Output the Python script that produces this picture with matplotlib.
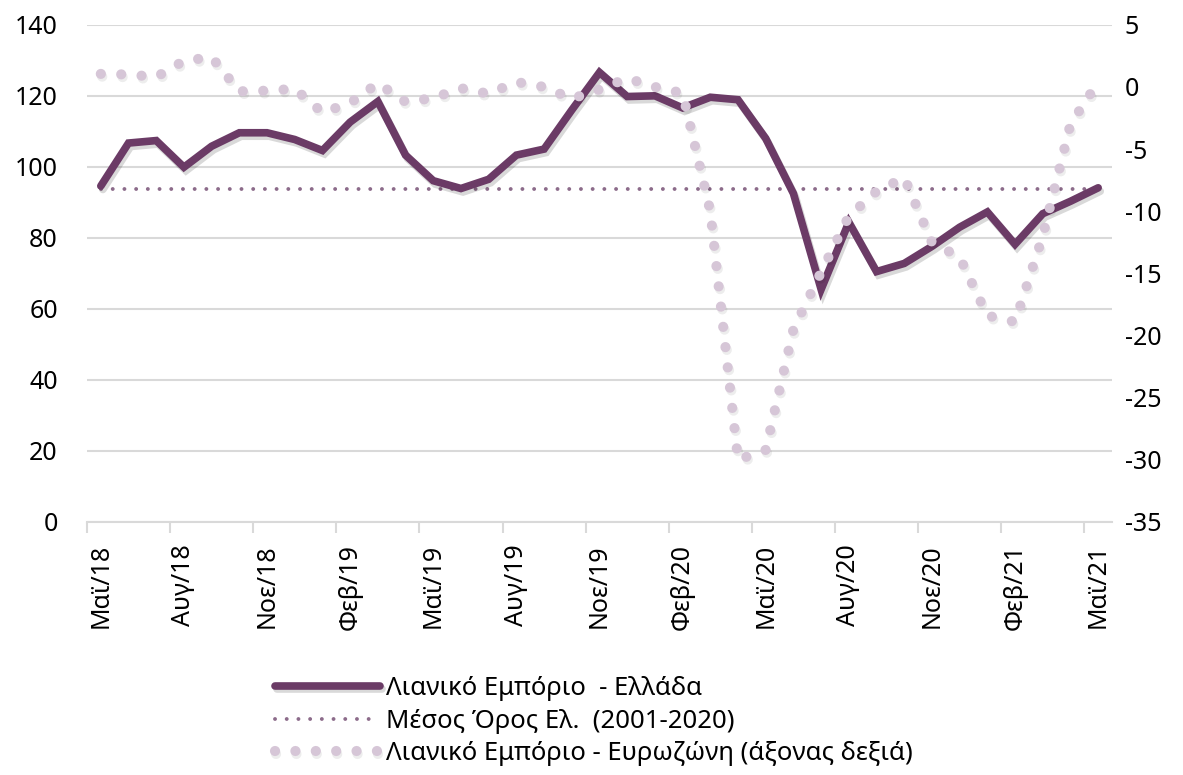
import matplotlib.pyplot as plt
import matplotlib.patheffects as pe

plt.rcParams['font.family'] = ['Noto Sans', 'DejaVu Sans']
plt.rcParams['axes.unicode_minus'] = False

# monthly data, May 2018 - May 2021
greece = [94.6, 106.7, 107.4, 99.9, 105.8, 109.6, 109.6, 107.7, 104.6, 112.6,
          118.4, 103.3, 96.1, 93.9, 96.5, 103.3, 105.0, 116.0, 126.6, 119.8,
          120.0, 116.6, 119.6, 118.9, 108.0, 92.5, 65.5, 84.4, 70.5, 72.8,
          77.6, 83.0, 87.3, 78.2, 86.8, 90.3, 94.1]
eurozone = [1.05, 1.0, 0.8, 2.1, 2.4, -0.35, -0.3, -0.15, -2.05, -1.3,
            0.3, -1.2, -0.9, -0.1, -0.55, 0.4, 0.0, -0.95, -0.2, 0.7,
            0.0, -0.5, -10.0, -30.0, -29.2, -19.5, -14.9, -10.4, -8.4, -7.3,
            -12.5, -13.7, -18.4, -18.9, -12.0, -3.0, 0.4]
greece_avg = 93.8
tick_labels = ['Μαϊ/18', 'Αυγ/18', 'Νοε/18', 'Φεβ/19', 'Μαϊ/19', 'Αυγ/19', 'Νοε/19',
               'Φεβ/20', 'Μαϊ/20', 'Αυγ/20', 'Νοε/20', 'Φεβ/21', 'Μαϊ/21']

x = list(range(len(greece)))
grid_col = '#d9d9d9'
shadow = [pe.SimpleLineShadow(offset=(1.5, -2.5), shadow_color='black', alpha=0.15), pe.Normal()]
soft_shadow = [pe.SimpleLineShadow(offset=(1, -2), shadow_color='black', alpha=0.07), pe.Normal()]

fig = plt.figure(figsize=(11.83, 7.75), dpi=100)
ax = fig.add_axes([0.0735, 0.3265, 0.8665, 0.6415])
ax2 = ax.twinx()

l1, = ax.plot(x, greece, color='#6b3b66', lw=5.5, solid_capstyle='round',
              solid_joinstyle='miter', path_effects=shadow, zorder=3,
              label='Λιανικό Εμπόριο  - Ελλάδα')
l2, = ax.plot(x, [greece_avg] * len(x), color='#8c6b8a', lw=2.8,
              linestyle=(0, (0.01, 3.0)), dash_capstyle='round', zorder=2,
              label='Μέσος Όρος Ελ.  (2001-2020)')
l3, = ax2.plot(x, eurozone, color='#d6c6d7', lw=7.3,
               linestyle=(0, (0.01, 2.0)), dash_capstyle='round',
               path_effects=soft_shadow, label='Λιανικό Εμπόριο - Ευρωζώνη (άξονας δεξιά)')

ax.set_xlim(-0.5, len(x) - 0.5)
ax.set_ylim(0, 140)
ax.set_yticks(range(0, 141, 20))
ax2.set_ylim(-35, 5)
ax2.set_yticks(range(-35, 6, 5))

ax.set_xticks(x[::3])
ax.set_xticklabels(tick_labels, rotation=90)
ax.set_xticks([i - 0.5 for i in x[::3]], minor=True)

ax.yaxis.grid(True, color=grid_col, lw=1.5)
ax.set_axisbelow(True)
for s in ['top', 'left', 'right']:
    ax.spines[s].set_visible(False)
for s in ax2.spines.values():
    s.set_visible(False)
ax.spines['bottom'].set_color(grid_col)
ax.spines['bottom'].set_linewidth(1.5)

ax.tick_params(axis='x', which='major', length=0, pad=16, labelsize=18)
ax.tick_params(axis='x', which='minor', length=8, width=1.5, color=grid_col)
ax.tick_params(axis='y', length=0, pad=21, labelsize=18)
ax2.tick_params(axis='y', length=0, pad=9, labelsize=18)

fig.legend([l1, l2, l3], [l1.get_label(), l2.get_label(), l3.get_label()],
           loc='upper left', bbox_to_anchor=(0.2325, 0.128), frameon=False,
           fontsize=18.5, handlelength=4.1, handletextpad=0.2, labelspacing=0.3,
           borderpad=0, borderaxespad=0)

fig.savefig('out.png', dpi=100)
